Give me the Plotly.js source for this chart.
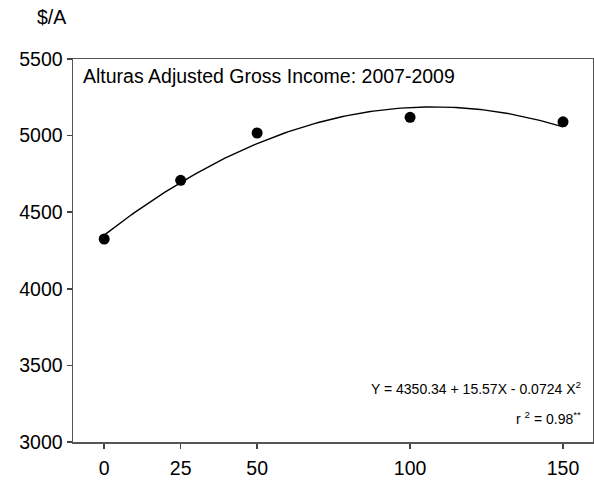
<!DOCTYPE html>
<html>
<head>
<meta charset="utf-8">
<script src="https://cdn.plot.ly/plotly-3.0.1.min.js"></script>
<style>
  html, body { margin: 0; padding: 0; background: #fff; }
  #chart { width: 594px; height: 483px; }
</style>
</head>
<body>
<div id="chart"></div>
<script>
// Nitrogen rate (lb/A) and adjusted gross income ($/A), 2007-2009 means
const rates = [0, 25, 50, 100, 150];
const income = [4325, 4708, 5017, 5119, 5090];

// Quadratic fit: Y = b0 + b1*X + b2*X^2
const b0 = 4350.34;
const b1 = 15.57;
const b2 = -0.0724;
const rSquared = 0.98;

const tickVals = [0, 25, 50, 100, 150];
const yTickVals = [3000, 3500, 4000, 4500, 5000, 5500];

const fitX = [];
const fitY = [];
for (let x = rates[0]; x <= rates[rates.length - 1]; x += 1) {
  fitX.push(x);
  fitY.push(b0 + b1 * x + b2 * x * x);
}

const font = 'Liberation Sans, Arial, sans-serif';

const traces = [
  {
    x: fitX, y: fitY, type: 'scatter', mode: 'lines',
    line: { color: '#000', width: 1.4 }, hoverinfo: 'skip'
  },
  {
    x: rates, y: income, type: 'scatter', mode: 'markers',
    marker: { color: '#000', size: 11 }
  }
];

const layout = {
  width: 594, height: 483,
  margin: { l: 73, r: 1, t: 59, b: 41 },
  paper_bgcolor: '#fff', plot_bgcolor: '#fff',
  showlegend: false,
  font: { family: font, color: '#000', size: 19 },
  xaxis: {
    range: [-10.2, 159.8],
    tickvals: tickVals,
    ticktext: tickVals.map(String),
    ticks: 'outside', ticklen: 5, tickwidth: 1.5, tickcolor: '#444',
    ticklabelstandoff: 3,
    showline: true, linecolor: '#555', linewidth: 1.5, mirror: true,
    showgrid: false, zeroline: false,
    tickfont: { family: font, size: 19.5, color: '#000' }
  },
  yaxis: {
    range: [3000, 5500],
    tickvals: yTickVals,
    ticktext: yTickVals.map(String),
    ticks: 'outside', ticklen: 5, tickwidth: 1.5, tickcolor: '#444',
    showline: true, linecolor: '#555', linewidth: 1.5, mirror: true,
    showgrid: false, zeroline: false,
    tickfont: { family: font, size: 19.5, color: '#000' }
  },
  annotations: [
    {
      text: '$/A', xref: 'paper', yref: 'paper',
      x: -0.042, y: 1.11, xanchor: 'center', yanchor: 'middle',
      showarrow: false, font: { family: font, size: 19.5, color: '#000' }
    },
    {
      text: 'Alturas Adjusted Gross Income: 2007-2009',
      xref: 'paper', yref: 'paper', x: 0.015, y: 0.99,
      xanchor: 'left', yanchor: 'top', showarrow: false,
      font: { family: font, size: 19.5, color: '#000' }
    },
    {
      text: 'Y = ' + b0.toFixed(2) + ' + ' + b1.toFixed(2) + 'X - ' + Math.abs(b2).toFixed(4) + ' X<sup>2</sup>',
      xref: 'paper', yref: 'paper', x: 0.98, y: 0.14,
      xanchor: 'right', yanchor: 'middle', showarrow: false,
      font: { family: font, size: 14, color: '#000' }
    },
    {
      text: 'r <sup>2</sup> = ' + rSquared.toFixed(2) + '<sup>**</sup>',
      xref: 'paper', yref: 'paper', x: 0.98, y: 0.062,
      xanchor: 'right', yanchor: 'middle', showarrow: false,
      font: { family: font, size: 14, color: '#000' }
    }
  ]
};

Plotly.newPlot('chart', traces, layout, { displayModeBar: false, staticPlot: true });
</script>
</body>
</html>
